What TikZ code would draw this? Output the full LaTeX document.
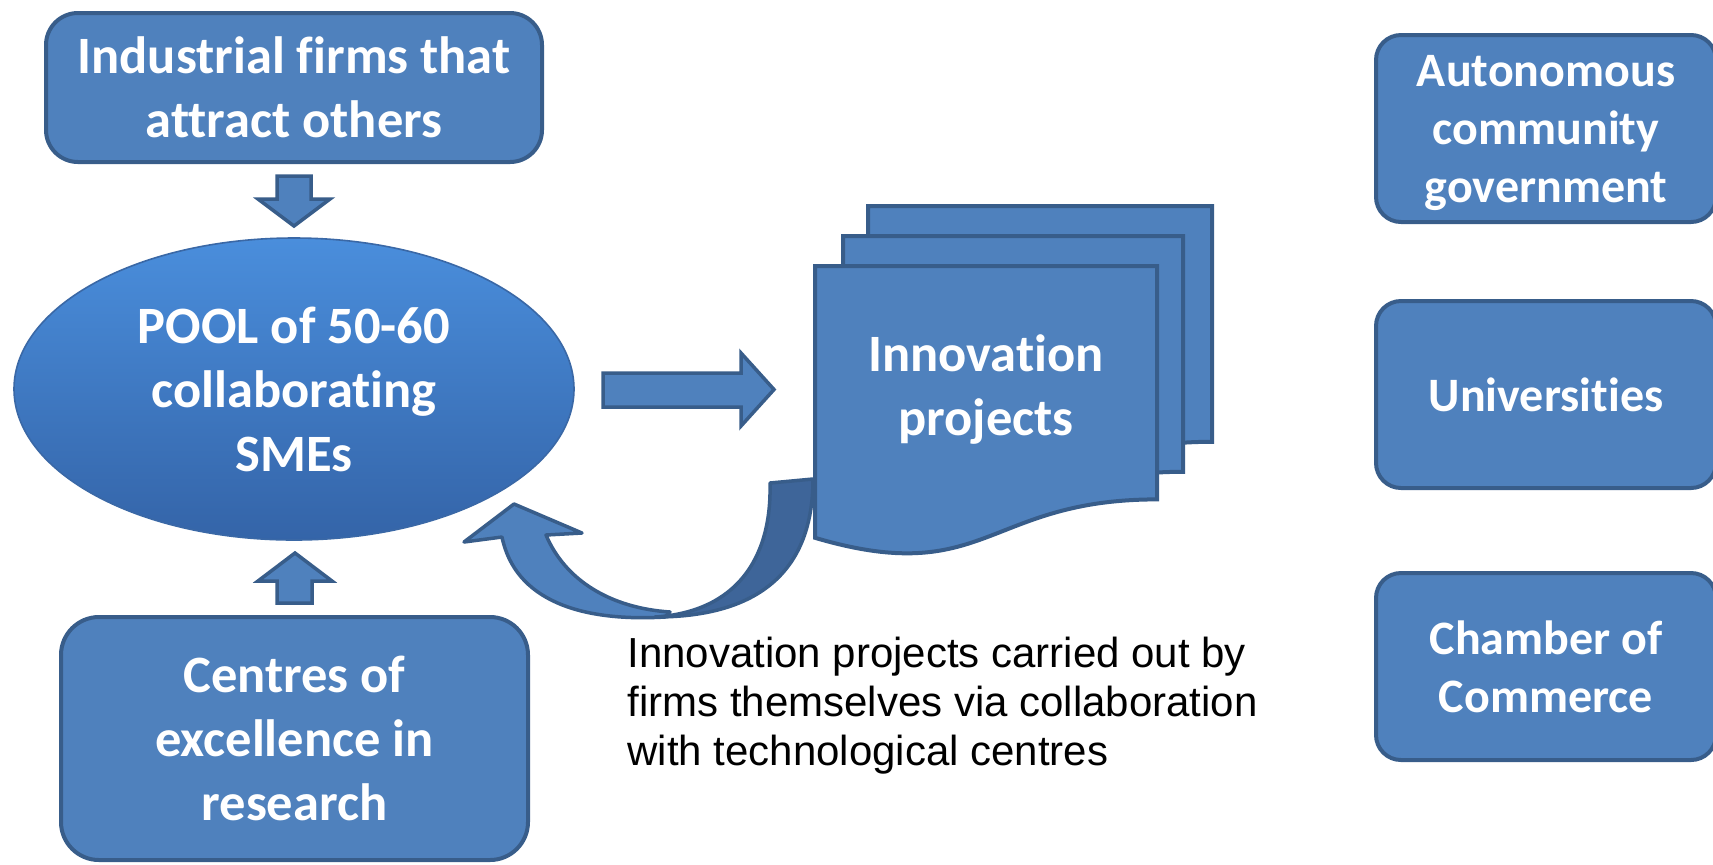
\documentclass[tikz,border=0pt]{standalone}
\usepackage{fontspec}
\setmainfont{Carlito}[RawFeature={-liga;-clig;-calt;-dlig}]
\newfontfamily\capfont{Liberation Sans}
\usetikzlibrary{shapes.geometric}
\definecolor{boxfill}{HTML}{4F81BD}
\definecolor{boxline}{HTML}{385D8A}
\definecolor{darkband}{HTML}{3E6599}
\definecolor{elltop}{HTML}{4A8EDC}
\definecolor{ellbot}{HTML}{3464A8}
\definecolor{ellrim}{HTML}{3A68A6}
\newcommand{\docshape}[4]{%
  (#1,#2) -- ({#1+#3},#2) -- ({#1+#3},{#2+0.802*#4})
  .. controls ({#1+0.5*#3},{#2+0.802*#4}) and ({#1+0.5*#3},{#2+1.1075*#4}) ..
  (#1,{#2+0.934*#4}) -- cycle}
\begin{document}
\begin{tikzpicture}[x=0.5pt,y=-0.5pt,
  bigtext/.style={text=white, align=center, font=\bfseries\fontsize{26.25}{32}\selectfont},
  smalltext/.style={text=white, align=center, font=\bfseries\fontsize{24}{29}\selectfont},
  boxnode/.style={draw=boxline, fill=boxfill, line width=2pt, inner sep=0pt},
  blockarrow/.style={draw=boxline, fill=boxfill, line width=1.75pt, line join=miter},
  docpage/.style={draw=boxline, fill=boxfill, line width=2pt, line join=miter}]
\fill[white] (0,0) rectangle (1713,864);
\useasboundingbox (0,0) rectangle (1713,864);

% left column
\node[boxnode, bigtext, rounded corners=16pt, minimum width=248pt, minimum height=74.5pt]
  (firms) at (294,87.5) {Industrial f\kern0pt irms that\\attract others};
\node[ellipse, draw=ellrim, line width=0.8pt, top color=elltop, bottom color=ellbot,
  minimum width=280pt, minimum height=151pt, inner sep=0pt, bigtext]
  (pool) at (294,389) {POOL of 50-60\\collaborat\kern0pt ing\\SMEs};
\node[boxnode, bigtext, rounded corners=19pt, minimum width=233.5pt, minimum height=121.5pt]
  (centres) at (294.5,738.5) {Centres of\\excellence in\\research};

% vertical block arrows
\draw[blockarrow] (277,176) -- (311,176) -- (311,199) -- (330,199) -- (294,226)
  -- (258,199) -- (277,199) -- cycle;
\draw[blockarrow] (277,603) -- (312,603) -- (312,581) -- (332,581) -- (295,553)
  -- (258,581) -- (277,581) -- cycle;

% right block arrow
\draw[blockarrow] (603,373) -- (741,373) -- (741,353) -- (774,389.5) -- (741,426)
  -- (741,407) -- (603,407) -- cycle;

% curved arrow back to the pool
\draw[blockarrow, line join=round] (665,617) .. controls (580,622) and (515,600) .. (502,537)
  -- (464,542) -- (514,504) -- (582,533) -- (546,535)
  .. controls (565,580) and (610,608) .. (670,612) -- cycle;
\draw[draw=boxline, fill=darkband, line width=1.75pt, line join=round]
  (770,483) -- (813,479) .. controls (813,570) and (760,617) .. (655,617)
  .. controls (735,612) and (772,560) .. (770,483) -- cycle;

% stack of documents
\draw[docpage] \docshape{868}{206}{344}{294};
\draw[docpage] \docshape{843}{236}{340}{294};
\draw[docpage] \docshape{815}{266}{342}{291};
\node[bigtext] (projects) at (986,390) {Innovat\kern0pt ion\\projects};

% caption
\node[anchor=north west, align=left, inner sep=0pt,
  font=\capfont\fontsize{21}{24.5}\selectfont] (caption) at (627,637)
  {Innovation projects carried out by\\firms themselves via collaboration\\with technological centres};

% right column
\node[boxnode, smalltext, rounded corners=12.5pt, minimum width=170pt, minimum height=93.5pt, text depth=0pt]
  (gov) at (1546,128.5) {Autonomous\\community\\government};
\node[boxnode, smalltext, rounded corners=12.5pt, minimum width=170pt, minimum height=93.5pt]
  (univ) at (1546,394.5) {Universit\kern0pt ies};
\node[boxnode, smalltext, rounded corners=12.5pt, minimum width=170pt, minimum height=93.5pt]
  (chamber) at (1546,666.5) {Chamber of\\Commerce};
\end{tikzpicture}
\end{document}
